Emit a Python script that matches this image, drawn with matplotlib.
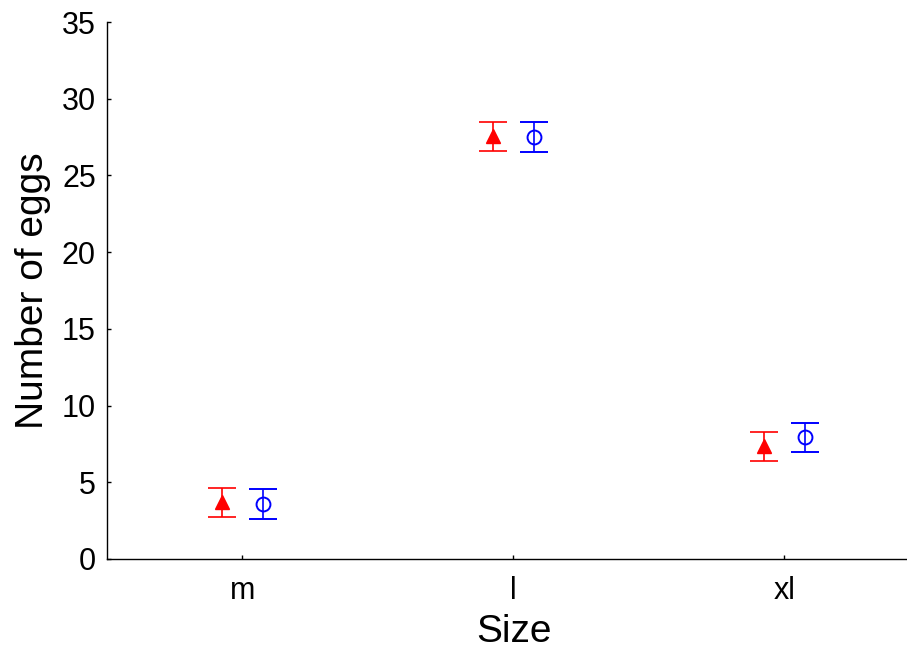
import matplotlib.pyplot as plt
import numpy as np

plt.rcParams["font.family"] = ["Liberation Sans", "DejaVu Sans"]

sizes = ["m", "l", "xl"]
red_mean = [3.7, 27.55, 7.35]
red_err = [0.93, 0.95, 0.95]
blue_mean = [3.6, 27.5, 7.92]
blue_err = [0.97, 0.95, 0.95]

x = np.arange(len(sizes))
offset = 0.075

fig = plt.figure(figsize=(9.07, 6.55), dpi=100)
ax = fig.add_axes([107 / 907, 1 - 559 / 655, 813 / 907, 537 / 655])

ax.errorbar(x - offset, red_mean, yerr=red_err, fmt="^", color="red",
            markersize=10.5, capsize=10, elinewidth=1.2, capthick=1.2)
ax.errorbar(x + offset, blue_mean, yerr=blue_err, fmt="o", color="blue",
            markerfacecolor="none", markeredgewidth=1.4, markersize=10,
            capsize=10, elinewidth=1.2, capthick=1.2)

ax.set_xlim(-0.5, 2.5)
ax.set_ylim(0, 35)
ax.set_yticks(range(0, 36, 5))
ax.set_xticks(x)
ax.set_xticklabels(sizes)

for side in ("top", "right"):
    ax.spines[side].set_visible(False)
for side in ("left", "bottom"):
    ax.spines[side].set_linewidth(1.0)

ax.tick_params(direction="in", length=3, width=1, labelsize=22)
ax.tick_params(axis="y", pad=8)
ax.tick_params(axis="x", pad=12)
ax.set_xlabel("Size", fontsize=28, labelpad=6)
ax.set_ylabel("Number of eggs", fontsize=28, labelpad=8)

fig.savefig("out.png", dpi=100)
